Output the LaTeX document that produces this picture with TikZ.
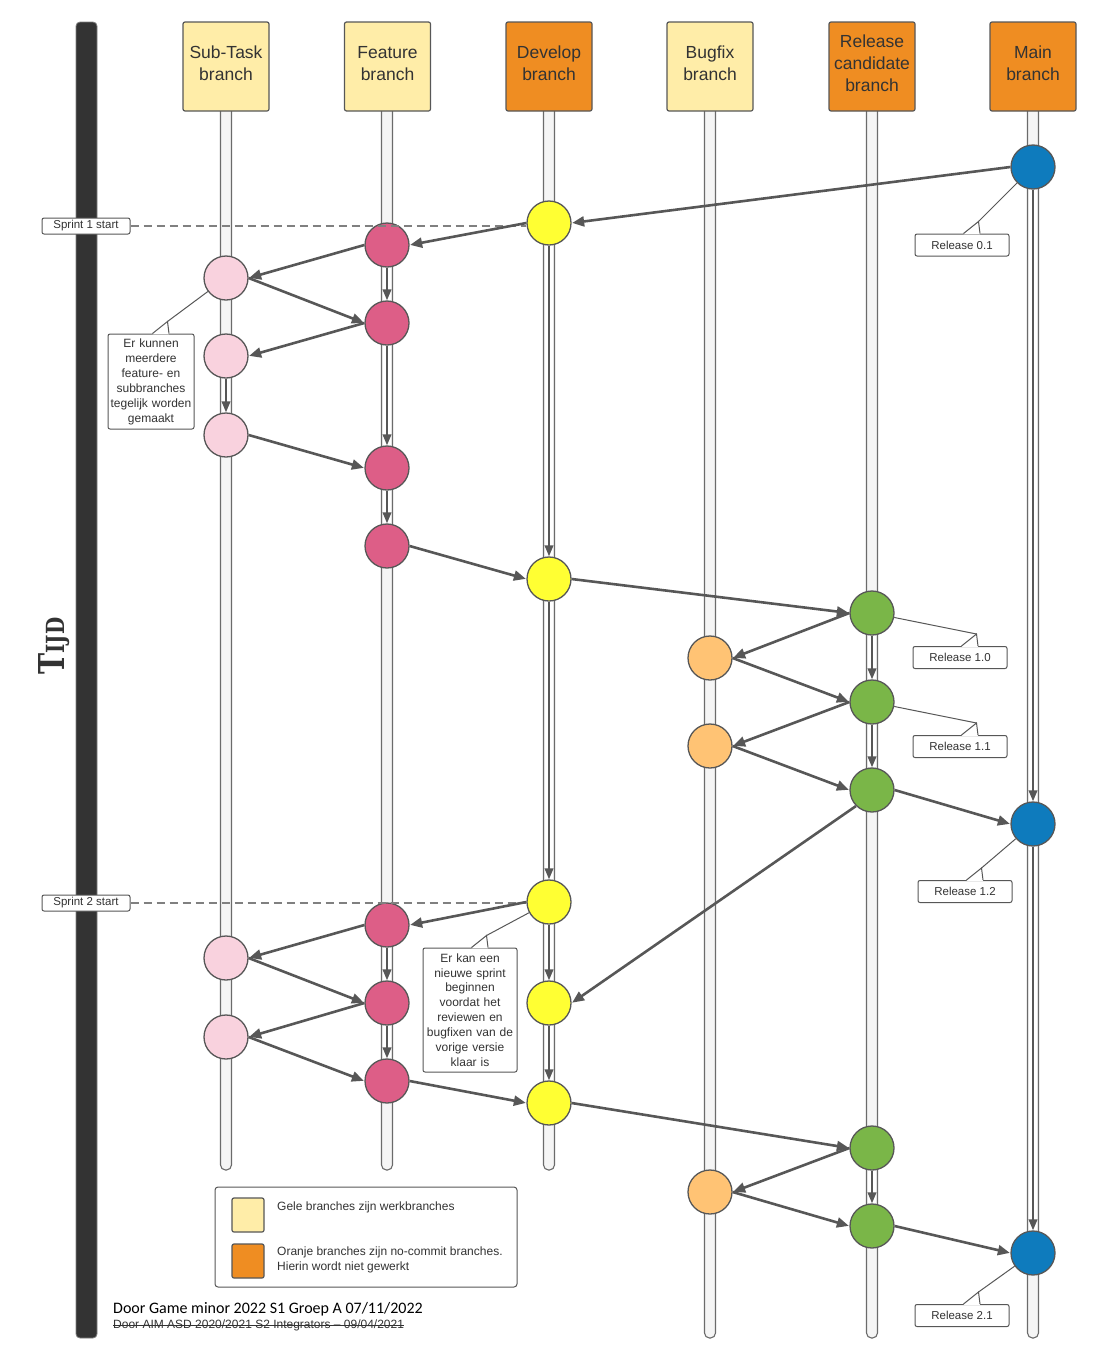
\documentclass[tikz,border=0pt]{standalone}
\usepackage{fontspec}
\setmainfont{Liberation Sans}
\newfontfamily\calibfont{Carlito}
\newfontfamily\tijdfont{DejaVu Serif}
\usetikzlibrary{arrows.meta,calc}
\definecolor{lgray}{HTML}{575757}
\definecolor{tgray}{HTML}{333333}
\definecolor{railfill}{HTML}{F5F5F5}
\definecolor{railline}{HTML}{6B6B6B}
\definecolor{barc}{HTML}{333333}
\definecolor{hyellow}{HTML}{FFEDA8}
\definecolor{horange}{HTML}{EF8D22}
\definecolor{cblue}{HTML}{0E7BBD}
\definecolor{cyellow}{HTML}{FFFF33}
\definecolor{cdpink}{HTML}{DD5E87}
\definecolor{clpink}{HTML}{F9D2DE}
\definecolor{cgreen}{HTML}{7AB648}
\definecolor{corange}{HTML}{FFC374}
\newcommand{\calloutnotch}[1]{%
  \coordinate (#1-tip) at ($(#1.north)+(16.5,-12)$);
  \fill[white] ($(#1.north)+(1.5,0.8)$) -- (#1-tip) -- ($(#1.north)+(18,0.8)$) -- cycle;
  \draw[callline] ($(#1.north)+(1.5,0)$) -- (#1-tip) -- ($(#1.north)+(18,0)$);
}
\begin{document}
\begin{tikzpicture}[x=1pt,y=-1pt,
  header/.style={draw=lgray, line width=1.2pt, rounded corners=2pt, minimum width=86pt, minimum height=89pt, inner sep=0pt},
  htext/.style={inner sep=0pt, align=center, font=\fontsize{17.5}{22}\selectfont, text=tgray},
  wbranch/.style={header, fill=hyellow},
  ncbranch/.style={header, fill=horange},
  rail/.style={draw=railline, fill=railfill, line width=1.1pt, rounded corners=5pt},
  commit/.style={circle, draw=lgray, line width=1.3pt, minimum size=44pt, inner sep=0pt},
  con/.style={draw=lgray, line width=2.6pt, -{Triangle[length=12pt,width=10pt]}, shorten >=0.5pt},
  vcon/.style={draw=lgray, line width=2.2pt, -{Triangle[length=11pt,width=8.5pt]},
    preaction={draw=white, line width=8.5pt, arrows=-}},
  callline/.style={draw=lgray, line width=1pt},
  cbox/.style={draw=lgray, fill=white, line width=1pt, rounded corners=2pt, inner sep=0pt, text=tgray, font=\fontsize{11.5}{13}\selectfont, minimum width=94pt, minimum height=22pt},
  sprint/.style={draw=lgray, fill=white, line width=1pt, rounded corners=2pt, inner sep=0pt, text=tgray, font=\fontsize{11.5}{12}\selectfont, minimum width=88pt, minimum height=16pt},
  dashline/.style={draw=gray, line width=1.2pt, dash pattern=on 8pt off 5pt}
]
\useasboundingbox (0,0) rectangle (1098,1360);

% time bar
\draw[fill=barc, draw=gray, line width=0.8pt, rounded corners=4pt] (76,22) rectangle (97,1338);
\node[rotate=90, text=barc, inner sep=0pt] (tijd) at (54,646) {\resizebox{57pt}{26pt}{\tijdfont\bfseries\fontsize{20}{20}\selectfont T\fontsize{14}{14}\selectfont IJD}};

% rails
\foreach \x/\yb in {226/1170, 387/1170, 549/1170, 710/1338, 872/1338, 1033/1338}
  \draw[rail] ({\x-5.5},100) rectangle ({\x+5.5},\yb);

% headers
\node[wbranch] (hsub) at (226,66.5) {};
\node[wbranch] (hfeat) at (387.5,66.5) {};
\node[ncbranch] (hdev) at (549,66.5) {};
\node[wbranch] (hbug) at (710,66.5) {};
\node[ncbranch] (hrel) at (872,66.5) {};
\node[ncbranch] (hmain) at (1033,66.5) {};
\node[htext] (hsubt) at (226,63.5) {Sub-Task\\branch};
\node[htext] (hfeatt) at (387.5,63.5) {Feature\\branch};
\node[htext] (hdevt) at (549,63.5) {Develop\\branch};
\node[htext] (hbugt) at (710,63.5) {Bugfix\\branch};
\node[htext] (hrelt) at (872,63.5) {Release\\candidate\\branch};
\node[htext] (hmaint) at (1033,63.5) {Main\\branch};

% sprint labels
\node[sprint] (sp1) at (86,226) {Sprint 1 start};
\node[sprint] (sp2) at (86,903) {Sprint 2 start};

% commits
\node[commit, fill=cblue] (m1) at (1033,167) {};
\node[commit, fill=cyellow] (d1) at (549,223) {};
\node[commit, fill=cdpink] (f1) at (387,245) {};
\node[commit, fill=clpink] (s1) at (226,278) {};
\node[commit, fill=cdpink] (f2) at (387,323) {};
\node[commit, fill=clpink] (s2) at (226,356) {};
\node[commit, fill=clpink] (s3) at (226,435) {};
\node[commit, fill=cdpink] (f3) at (387,468) {};
\node[commit, fill=cdpink] (f4) at (387,546) {};
\node[commit, fill=cyellow] (d2) at (549,579) {};
\node[commit, fill=cgreen] (r1) at (872,613) {};
\node[commit, fill=corange] (b1) at (710,658) {};
\node[commit, fill=cgreen] (r2) at (872,702) {};
\node[commit, fill=corange] (b2) at (710,746) {};
\node[commit, fill=cgreen] (r3) at (872,790) {};
\node[commit, fill=cblue] (m2) at (1033,824) {};
\node[commit, fill=cyellow] (d3) at (549,902) {};
\node[commit, fill=cdpink] (f5) at (387,925) {};
\node[commit, fill=clpink] (s4) at (226,958) {};
\node[commit, fill=cdpink] (f6) at (387,1003) {};
\node[commit, fill=cyellow] (d4) at (549,1003) {};
\node[commit, fill=clpink] (s5) at (226,1037) {};
\node[commit, fill=cdpink] (f7) at (387,1081) {};
\node[commit, fill=cyellow] (d5) at (549,1103) {};
\node[commit, fill=cgreen] (r4) at (872,1148) {};
\node[commit, fill=corange] (b3) at (710,1192) {};
\node[commit, fill=cgreen] (r5) at (872,1226) {};
\node[commit, fill=cblue] (m3) at (1033,1253) {};

% sprint dashed lines (horizontal, ending at the develop commit)
\coordinate (sp1end) at (sp1.east -| d1.west);
\coordinate (sp2end) at (sp2.east -| d3.west);
\draw[dashline] (sp1.east) -- (sp1end);
\draw[dashline] (sp2.east) -- (sp2end);

% vertical arrows
\foreach \a/\b in {s2/s3, f1/f2, f2/f3, f3/f4, d1/d2, d2/d3, d3/d4, d4/d5, f5/f6, f6/f7, r1/r2, r2/r3, r4/r5, m1/m2, m2/m3}
  \draw[vcon] (\a.south) -- (\b.north);

% diagonal arrows
\draw[con] (m1.west) -- (d1.east);
\draw[con] (d1.west) -- (f1.east);
\draw[con] (f1.west) -- (s1.east);
\draw[con] (s1.east) -- (f2.west);
\draw[con] (f2.west) -- (s2.east);
\draw[con] (s3.east) -- (f3.west);
\draw[con] (f4.east) -- (d2.west);
\draw[con] (d2.east) -- (r1.west);
\draw[con] (r1.west) -- (b1.east);
\draw[con] (b1.east) -- (r2.west);
\draw[con] (r2.west) -- (b2.east);
\draw[con] (b2.east) -- (r3.west);
\draw[con] (r3.east) -- (m2.west);
\draw[con] (r3.south west) -- (d4.east);
\draw[con] (d3.west) -- (f5.east);
\draw[con] (f5.west) -- (s4.east);
\draw[con] (s4.east) -- (f6.west);
\draw[con] (f6.west) -- (s5.east);
\draw[con] (s5.east) -- (f7.west);
\draw[con] (f7.east) -- (d5.west);
\draw[con] (d5.east) -- (r4.west);
\draw[con] (r4.west) -- (b3.east);
\draw[con] (b3.east) -- (r5.west);
\draw[con] (r5.east) -- (m3.west);

% callouts
\node[cbox] (c01) at (962,245) {Release 0.1};
\calloutnotch{c01}
\draw[callline] (c01-tip) -- (m1);
\node[cbox] (c10) at (960,657.5) {Release 1.0};
\calloutnotch{c10}
\draw[callline] (c10-tip) -- (r1);
\node[cbox] (c11) at (960,746.5) {Release 1.1};
\calloutnotch{c11}
\draw[callline] (c11-tip) -- (r2);
\node[cbox] (c12) at (965,891.5) {Release 1.2};
\calloutnotch{c12}
\draw[callline] (c12-tip) -- (m2);
\node[cbox] (c21) at (962,1315.5) {Release 2.1};
\calloutnotch{c21}
\draw[callline] (c21-tip) -- (m3);

\node[cbox, minimum width=86pt, minimum height=95pt, text width=84pt, align=center, font=\fontsize{12}{15}\selectfont] (cmulti) at (151,381.5) {Er kunnen\\meerdere\\feature- en\\subbranches\\tegelijk worden\\gemaakt};
\calloutnotch{cmulti}
\draw[callline] (cmulti-tip) -- (s1);

\node[cbox, minimum width=94pt, minimum height=124pt, text width=92pt, align=center, font=\fontsize{12}{14.9}\selectfont] (csprint) at (470,1010) {Er kan een\\nieuwe sprint\\beginnen\\voordat het\\reviewen en\\bugfixen van de\\vorige versie\\klaar is};
\calloutnotch{csprint}
\draw[callline] (csprint-tip) -- (d3);

% legend
\node[draw=lgray, fill=white, line width=1pt, rounded corners=3pt, minimum width=302pt, minimum height=100pt, inner sep=0pt] (legend) at (366,1237) {};
\node[draw=lgray, fill=hyellow, line width=1.2pt, rounded corners=2pt, minimum width=32pt, minimum height=34pt, inner sep=0pt] (lgy) at (248,1215) {};
\node[draw=lgray, fill=horange, line width=1.2pt, rounded corners=2pt, minimum width=32pt, minimum height=34pt, inner sep=0pt] (lgo) at (248,1261) {};
\node[anchor=west, inner sep=0pt, text=tgray, font=\fontsize{12}{15}\selectfont] (lgyt) at (277,1207) {Gele branches zijn werkbranches};
\node[anchor=west, inner sep=0pt, text=tgray, font=\fontsize{12}{15}\selectfont, align=left] (lgot) at (277,1260) {Oranje branches zijn no-commit branches.\\Hierin wordt niet gewerkt};

% credits
\node[anchor=west, inner sep=0pt, text=black, font=\calibfont\fontsize{16}{18}\selectfont] (credit) at (113,1309) {Door Game minor 2022 S1 Groep A 07/11/2022};
\node[anchor=west, inner sep=0pt, text=tgray, font=\fontsize{12}{13}\selectfont] (oldcredit) at (113,1325) {Door AIM ASD 2020/2021 S2 Integrators – 09/04/2021};
\draw[draw=tgray, line width=0.9pt] ($(oldcredit.west)+(0,0.5)$) -- ($(oldcredit.east)+(0,0.5)$);
\end{tikzpicture}
\end{document}
